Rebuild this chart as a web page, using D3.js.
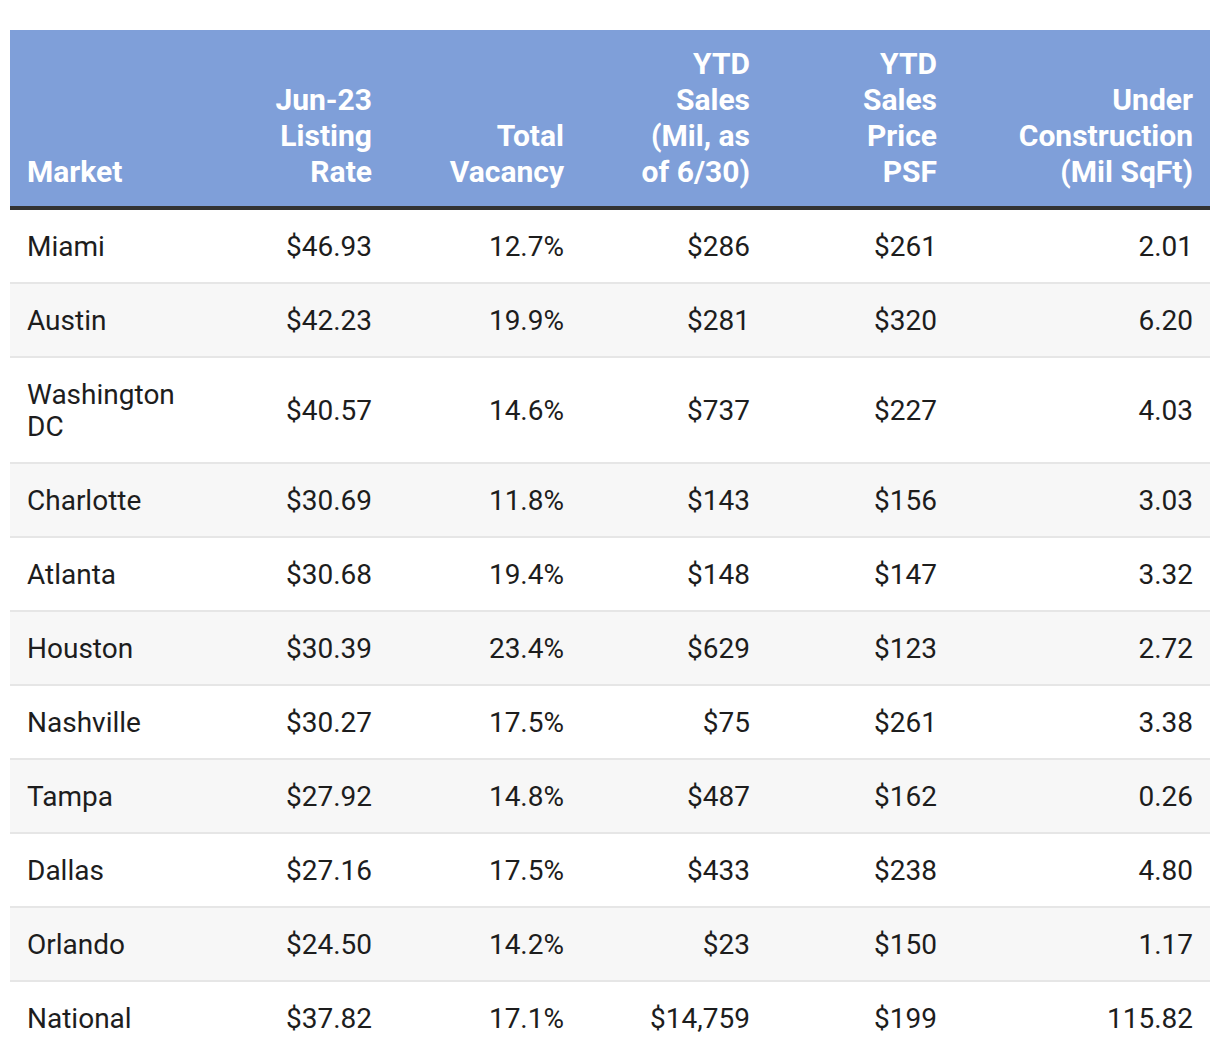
<!DOCTYPE html>
<html><head><meta charset="utf-8">
<script src="https://cdn.jsdelivr.net/npm/d3@7"></script>
<style>body{margin:0;background:#fff;} svg{display:block;font-family:Roboto,sans-serif;}</style>
</head><body><svg id="chart" width="1220" height="1064"></svg>
<script>
const headers = [["Market"],["Jun-23","Listing","Rate"],["Total","Vacancy"],["YTD","Sales","(Mil, as","of 6/30)"],["YTD","Sales","Price","PSF"],["Under","Construction","(Mil SqFt)"]];
const markets = ["Miami","Austin","Washington DC","Charlotte","Atlanta","Houston","Nashville","Tampa","Dallas","Orlando","National"];
const listingRate = ["$46.93","$42.23","$40.57","$30.69","$30.68","$30.39","$30.27","$27.92","$27.16","$24.50","$37.82"];
const totalVacancy = ["12.7%","19.9%","14.6%","11.8%","19.4%","23.4%","17.5%","14.8%","17.5%","14.2%","17.1%"];
const ytdSales = ["$286","$281","$737","$143","$148","$629","$75","$487","$433","$23","$14,759"];
const ytdPricePSF = ["$261","$320","$227","$156","$147","$123","$261","$162","$238","$150","$199"];
const underConstruction = ["2.01","6.20","4.03","3.03","3.32","2.72","3.38","0.26","4.80","1.17","115.82"];

const cols = [markets, listingRate, totalVacancy, ytdSales, ytdPricePSF, underConstruction];
const colWidths = [194,185,192,186,187,256];
const left = 10, pad = 17, headTop = 30, headH = 176, borderW = 4;
const fs = 28, hfs = 30, lineH = 32, hLineH = 36, rowPad = 20, sepW = 2;

const svg = d3.select("#chart");
const edges = d3.cumsum([left, ...colWidths]);
const colLeft = i => edges[i];
const colRight = i => edges[i+1];
const totalW = edges[edges.length-1]-left;

// header
svg.append("rect").attr("x",left).attr("y",headTop).attr("width",totalW).attr("height",headH).attr("fill","#7f9fd9");
svg.append("rect").attr("x",left).attr("y",headTop+headH).attr("width",totalW).attr("height",borderW).attr("fill","#333333");
headers.forEach((lines,i)=>{
  const x = i===0? colLeft(i)+pad : colRight(i)-pad;
  const t = svg.append("text").attr("fill","#fff").attr("font-weight","bold").attr("font-size",hfs)
    .attr("text-anchor", i===0?"start":"end").attr("x", x);
  const n = lines.length;
  lines.forEach((l,k)=>{
    t.append("tspan").attr("x", x)
     .attr("y", headTop+headH-24 - (n-1-k)*hLineH).text(l);
  });
});

// body wrap helper
const measure = svg.append("text").attr("font-size",fs).attr("visibility","hidden");
function wrap(str, maxW){
  const words = str.split(" "); const lines=[]; let cur="";
  words.forEach(w=>{
    const test = cur? cur+" "+w : w;
    measure.text(test);
    if (measure.node().getComputedTextLength() > maxW && cur){ lines.push(cur); cur=w; } else cur=test;
  });
  lines.push(cur); return lines;
}
let y = headTop+headH+borderW;
const body = svg.append("g");
markets.forEach((m,r)=>{
  const cellLines = cols.map((c,i)=>wrap(c[r], colWidths[i]-2*pad));
  const nLines = d3.max(cellLines, d=>d.length);
  const h = rowPad*2 + nLines*lineH;
  const g = body.append("g");
  g.append("rect").attr("x",left).attr("y",y).attr("width",totalW).attr("height",h)
    .attr("fill", r%2===1 ? "#f7f7f7" : "#ffffff");
  cellLines.forEach((lines,i)=>{
    const x = i===0? colLeft(i)+pad : colRight(i)-pad;
    const t = g.append("text").attr("font-size",fs).attr("fill","#1d1d1d")
      .attr("text-anchor", i===0?"start":"end");
    const cy = y + h/2;
    lines.forEach((l,k)=>{
      t.append("tspan").attr("x",x).attr("y", cy + (k-(lines.length-1)/2)*lineH).attr("dy","0.35em").text(l);
    });
  });
  y += h;
  if (r < markets.length-1){
    g.append("rect").attr("x",left).attr("y",y).attr("width",totalW).attr("height",sepW).attr("fill","#e6e6e6");
    y += sepW;
  }
});
measure.remove();
</script></body></html>
